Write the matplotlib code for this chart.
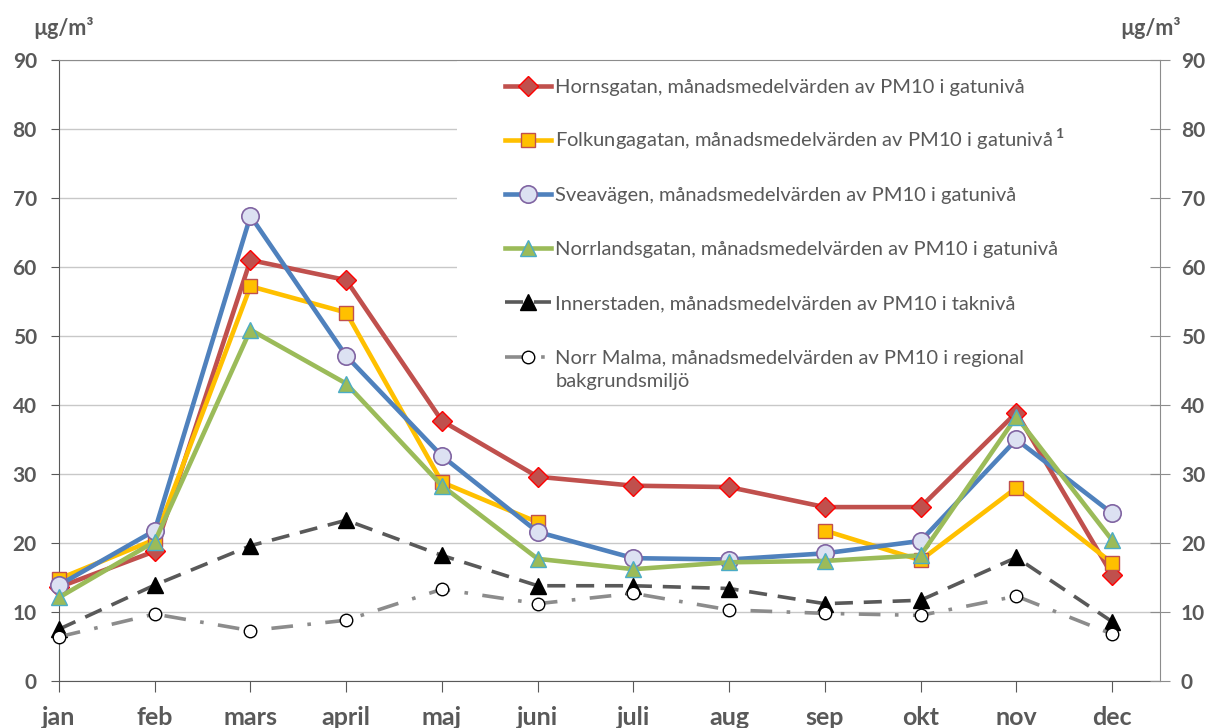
import numpy as np
import matplotlib.pyplot as plt
from matplotlib.patches import Rectangle

months = ["jan", "feb", "mars", "april", "maj", "juni", "juli", "aug", "sep", "okt", "nov", "dec"]

hornsgatan = [13.6, 18.8, 61.0, 58.1, 37.7, 29.6, 28.3, 28.1, 25.2, 25.2, 38.9, 15.4]
folkungagatan = [14.8, 20.5, 57.2, 53.4, 28.8, 23.0, np.nan, np.nan, 21.8, 17.5, 28.0, 17.1]
sveavagen = [13.9, 21.8, 67.4, 47.1, 32.6, 21.6, 17.8, 17.6, 18.5, 20.3, 35.0, 24.3]
norrlandsgatan = [12.1, 20.2, 50.9, 43.1, 28.3, 17.7, 16.2, 17.2, 17.4, 18.2, 38.3, 20.4]
innerstaden = [7.5, 13.9, 19.6, 23.3, 18.2, 13.8, 13.8, 13.4, 11.2, 11.7, 17.9, 8.6]
norr_malma = [6.4, 9.7, 7.3, 8.8, 13.3, 11.2, 12.7, 10.3, 9.8, 9.5, 12.3, 6.8]

labels = [
    "Hornsgatan, månadsmedelvärden av PM10 i gatunivå",
    "Folkungagatan, månadsmedelvärden av PM10 i gatunivå$\\,^{\\mathbf{1}}$",
    "Sveavägen, månadsmedelvärden av PM10 i gatunivå",
    "Norrlandsgatan, månadsmedelvärden av PM10 i gatunivå",
    "Innerstaden, månadsmedelvärden av PM10 i taknivå",
    "Norr Malma, månadsmedelvärden av PM10 i regional",
]

plt.rcParams['font.family'] = ['Lato', 'DejaVu Sans']
plt.rcParams['mathtext.fontset'] = 'custom'
plt.rcParams['mathtext.rm'] = 'Lato'
plt.rcParams['mathtext.bf'] = 'Lato:bold'

txt = '#595959'
x = np.arange(len(months))

fig = plt.figure(figsize=(12.14, 7.28), dpi=100)
ax = fig.add_axes([0.0486, 0.0646, 0.9069, 0.853])
ax.set_xlim(0, 11.5)
ax.set_ylim(0, 90)
ax.set_yticks(range(0, 91, 10))
ax.set_xticks(x)
ax.set_xticklabels(months)
ax.set_axisbelow(True)
ax.yaxis.grid(True, color='#c8c8c8', lw=1)

# white area behind the legend hides the grid there
ax.add_patch(Rectangle((0.3615, 0.455), 0.64, 0.545, transform=ax.transAxes,
                       facecolor='white', edgecolor='none', zorder=1))

lw = 3.3
ax.plot(x, hornsgatan, color='#C0504D', lw=lw, marker='D', ms=10,
        mfc='#C0504D', mec='#FF0000', mew=1, zorder=3, clip_on=False, label=labels[0])
ax.plot(x, folkungagatan, color='#FFC000', lw=lw, marker='s', ms=9.5,
        mfc='#FFC000', mec='#C0504D', mew=1, zorder=3, clip_on=False, label=labels[1])
ax.plot(x, sveavagen, color='#4F81BD', lw=lw, marker='o', ms=12.5,
        mfc='#DCE1F2', mec='#8064A2', mew=1.2, zorder=3, clip_on=False, label=labels[2])
ax.plot(x, norrlandsgatan, color='#9BBB59', lw=lw, marker='^', ms=12,
        mfc='#9BBB59', mec='#4BACC6', mew=1, zorder=3, clip_on=False, label=labels[3])
ax.plot(x, innerstaden, color='#595959', lw=2.6, ls=(0, (5, 3)), marker='^', ms=11,
        mfc='black', mec='black', zorder=3, clip_on=False, label=labels[4])
ax.plot(x, norr_malma, color='#8c8c8c', lw=2.6, ls=(0, (6, 4, 1, 4)), marker='o', ms=9,
        mfc='white', mec='black', mew=1, zorder=3, clip_on=False, label=labels[5])

# rows are sized by handleheight so spacing stays even
leg = ax.legend(loc='upper left', bbox_to_anchor=(0.3975, 0.992), frameon=False,
                fontsize=14.5, labelspacing=0.70, handleheight=2.68, handlelength=2.3,
                handletextpad=0.2, borderaxespad=0)
for t in leg.get_texts():
    t.set_color(txt)
    t.set_position((0, 6))  # line the text up with its handle
ax.text(0.4514, 0.483, "bakgrundsmiljö", transform=ax.transAxes, fontsize=14.5,
        color=txt, va='center', ha='left', zorder=6)

for s in ['left', 'bottom']:
    ax.spines[s].set_color('#595959')
ax.spines['top'].set_color('#8c8c8c')
ax.spines['right'].set_visible(False)
ax.tick_params(axis='y', direction='out', length=6, color='#595959', labelsize=15,
               labelcolor=txt, pad=10)
ax.tick_params(axis='x', direction='out', length=8, color='#595959', labelsize=18,
               labelcolor=txt, pad=10)
for lab in ax.get_xticklabels() + ax.get_yticklabels():
    lab.set_fontweight('bold')

ax2 = ax.twinx()
ax2.set_ylim(0, 90)
ax2.set_yticks(range(0, 91, 10))
ax2.spines['right'].set_color('#8c8c8c')
for s in ['left', 'top', 'bottom']:
    ax2.spines[s].set_visible(False)
ax2.tick_params(axis='y', direction='inout', length=14, color='#8c8c8c', labelsize=15,
                labelcolor=txt, pad=8)
for lab in ax2.get_yticklabels():
    lab.set_fontweight('bold')

fig.text(0.027, 0.962, "µg/m³", fontsize=15.5, fontweight='bold', color=txt, va='center')
fig.text(0.9226, 0.962, "µg/m³", fontsize=15.5, fontweight='bold', color=txt, va='center')

fig.savefig('out.png', dpi=100)
